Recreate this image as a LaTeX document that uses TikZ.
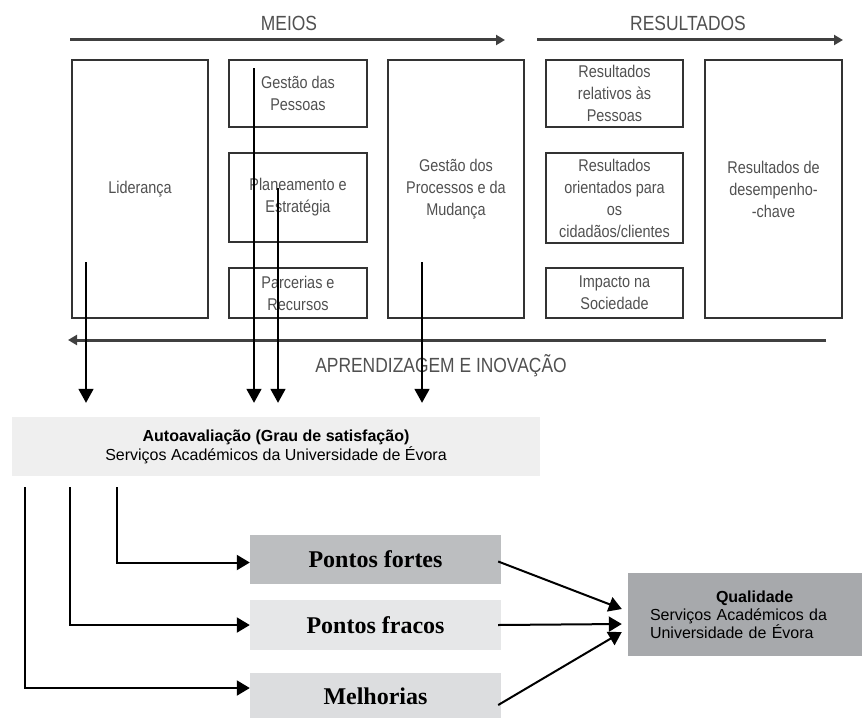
\documentclass[tikz,border=0pt]{standalone}
\usepackage{fontspec}
\setmainfont{Liberation Serif}
\setsansfont{Liberation Sans}
\newfontfamily\narrowsans[FakeStretch=0.85]{Liberation Sans}
\usetikzlibrary{arrows.meta, positioning, calc}
\definecolor{boxtext}{HTML}{505050}
\definecolor{autofill}{HTML}{EFEFEF}
\definecolor{fortefill}{HTML}{BCBEC0}
\definecolor{fracofill}{HTML}{E6E7E8}
\definecolor{melhfill}{HTML}{DCDDDF}
\definecolor{qualfill}{HTML}{A7A9AC}

\begin{document}
\begin{tikzpicture}[x=1pt, y=-1pt,
        crit/.style={draw=black!80, line width=1.7pt, align=center, text=boxtext,
            font=\narrowsans\fontsize{17}{22}\selectfont, inner sep=0pt},
        flow/.style={draw=black!75, line width=3pt, -{Triangle[length=9pt,width=10pt]}},
        flowlbl/.style={text=boxtext, font=\narrowsans\fontsize{20.5}{24}\selectfont},
        varrow/.style={line width=1.8pt, -{Triangle[length=14pt,width=15pt]}},
        harrow/.style={line width=2pt, -{Triangle[length=13pt,width=15pt]}},
        result/.style={minimum width=251pt, inner sep=0pt,
            font=\bfseries\fontsize{24}{28}\selectfont}]
    \useasboundingbox (0,0) rectangle (864,717);
    % fluxos de cima
    \coordinate (m0) at (70,40);
    \coordinate (m1) at (505,40);
    \coordinate (r0) at (537,40);
    \coordinate (r1) at (843,40);
    \draw[flow] (m0) -- (m1);
    \draw[flow] (r0) -- (r1);
    \node[flowlbl] (meios) at (289,23) {MEIOS};
    \node[flowlbl] (resl) at (688,23) {RESULTADOS};
    % meios
    \node[crit, minimum width=136pt, minimum height=258pt] (lid) at (140,189) {Liderança};
    \node[crit, minimum width=138pt, minimum height=67pt] (gp) at (298,93.5) {Gestão das\\Pessoas};
    \node[crit, minimum width=138pt, minimum height=89pt] (plan) at (298,197.5) {Planeamento e\\Estratégia};
    \node[crit, minimum width=138pt, minimum height=50pt] (parc) at (298,293) {Parcerias e\\Recursos};
    \node[crit, minimum width=136pt, minimum height=258pt] (proc) at (456,189) {Gestão dos\\Processos e da\\Mudança};
    % resultados
    \node[crit, minimum width=137pt, minimum height=67pt] (rpes) at (614.5,93.5) {Resultados\\relativos às\\Pessoas};
    \node[crit, minimum width=137pt, minimum height=90pt] (rcid) at (614.5,198) {Resultados\\orientados para\\os\\cidadãos/clientes};
    \node[crit, minimum width=137pt, minimum height=50pt] (imp) at (614.5,293) {Impacto na\\Sociedade};
    \node[crit, minimum width=137pt, minimum height=258pt] (rdes) at (773.5,189) {Resultados de\\desempenho-\\-chave};
    % aprendizagem
    \coordinate (a0) at (826,340);
    \coordinate (a1) at (68,340);
    \draw[flow] (a0) -- (a1);
    \node[flowlbl] (aprend) at (441,366) {APRENDIZAGEM E INOVAÇÃO};
    % autoavaliacao
    \node[fill=autofill, minimum width=528pt, minimum height=59pt, align=center, inner sep=0pt,
        font=\sffamily\fontsize{16}{19}\selectfont] (auto) at (276,446.5)
        {\textbf{Autoavaliação (Grau de satisfação)}\\Serviços Académicos da Universidade de Évora};
    \coordinate (autotop) at ([yshift=14pt]auto.north);
    \coordinate (s1) at (86,262);
    \coordinate (s2) at (254,68);
    \coordinate (s3) at (278,188);
    \coordinate (s4) at (422,262);
    \foreach \s in {s1,s2,s3,s4}
        \draw[varrow] (\s) -- (autotop -| \s);
    % pontos
    \node[result, fill=fortefill, minimum height=49pt] (fortes) at (375.5,559.5) {Pontos fortes};
    \node[result, fill=fracofill, minimum height=50pt] (fracos) at (375.5,625) {Pontos fracos};
    \node[result, fill=melhfill, minimum height=46pt] (melh) at (375.5,696) {Melhorias};
    \coordinate (d1) at (25,487);
    \coordinate (d2) at (70,487);
    \coordinate (d3) at (117,487);
    \draw[harrow] (d3) |- ([yshift=-3pt]fortes.west);
    \draw[harrow] (d2) |- (fracos.west);
    \draw[harrow] (d1) |- ([yshift=8pt]melh.west);
    % qualidade
    \node[fill=qualfill, minimum width=234pt, minimum height=83pt, text width=190pt, align=left,
        inner xsep=22pt, font=\sffamily\fontsize{16}{18}\selectfont] (qual) at (745,614.5)
        {\hspace*{66pt}\textbf{Qualidade}\\Serviços Académicos da\\Universidade de Évora};
    \draw[harrow] ([xshift=-3pt,yshift=-2pt]fortes.east) -- ([xshift=-6pt,yshift=5.5pt]qual.west);
    \draw[harrow] ([xshift=-3pt]fracos.east) -- ([xshift=-6pt,yshift=-9.5pt]qual.west);
    \draw[harrow] ([xshift=-3pt,yshift=-9pt]melh.east) -- ([xshift=-6pt,yshift=-17.5pt]qual.west);
\end{tikzpicture}
\end{document}
